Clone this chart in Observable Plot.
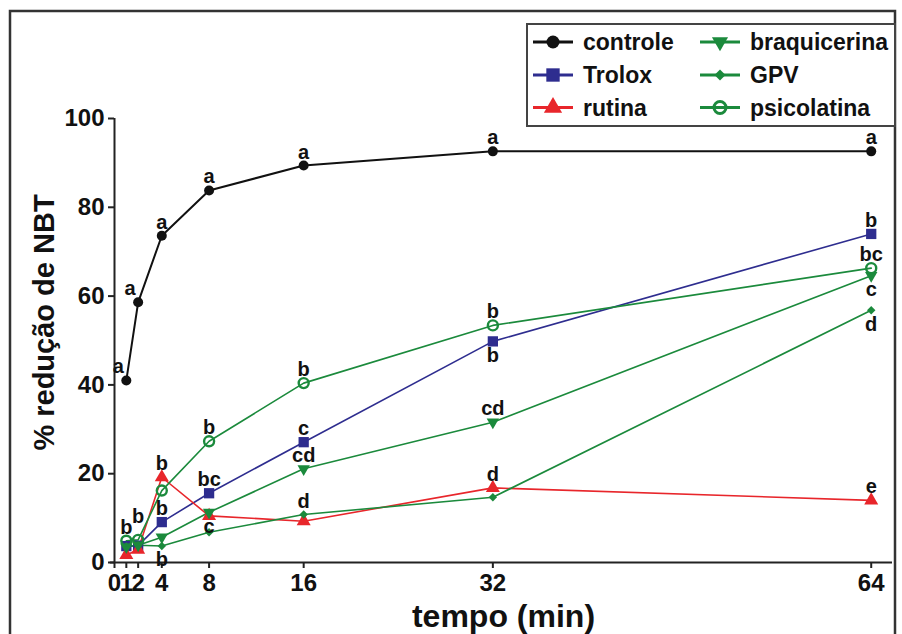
<!DOCTYPE html>
<html><head><meta charset="utf-8">
<script src="https://cdn.jsdelivr.net/npm/d3@7"></script>
<script src="https://cdn.jsdelivr.net/npm/@observablehq/plot@0.6"></script>
<style>
body{margin:0;background:#fff;}
#chart svg{display:block;}
</style></head><body><div id="chart"></div>
<script>
// ---- data ----
const times = [1, 2, 4, 8, 16, 32, 64];
const seriesNames = ["controle", "Trolox", "rutina", "braquicerina", "GPV", "psicolatina"];
const controle     = [41.0, 58.6, 73.6, 83.8, 89.4, 92.6, 92.6];
const trolox       = [3.7, 3.8, 9.1, 15.6, 27.1, 49.8, 74.0];
const rutina       = [1.7, 2.9, 19.2, 10.5, 9.3, 16.8, 14.0];
const braquicerina = [3.5, 3.9, 5.7, 11.3, 21.1, 31.6, 64.6];
const gpv          = [3.6, 3.9, 3.7, 6.8, 10.8, 14.7, 56.8];
const psicolatina  = [4.9, 5.1, 16.2, 27.3, 40.4, 53.4, 66.3];
const lettersControle     = ["a", "a", "a", "a", "a", "a", "a"];
const lettersTrolox       = [null, null, "b", "bc", "c", "b", "b"];
const lettersRutina       = [null, null, "b", null, null, "d", "e"];
const lettersBraquicerina = [null, null, null, "c", "cd", "cd", "c"];
const lettersGPV          = [null, null, "b", null, "d", null, "d"];
const lettersPsicolatina  = ["b", "b", null, "b", "b", "b", "bc"];
const xTicks = [0, 1, 2, 4, 8, 16, 32, 64];
const yTicks = [0, 20, 40, 60, 80, 100];
const xTitle = "tempo (min)";
const yTitle = "% redução de NBT";
// label placement (style): which letters sit below / left / higher than usual
const belowLabels = {Trolox: [32], braquicerina: [8, 64], GPV: [4, 64]};
const leftLabels = {controle: [1, 2]};
const highLabels = {psicolatina: [2]};

// ---- styles ----
const BLUE = "#2e2d8f", RED = "#e8262b", GREEN = "#1b8a3c", BLACK = "#111";
const style = {
  controle:     {color: BLACK, symbol: "circle", r: 5, fill: BLACK, sw: 2, rot: 0},
  Trolox:       {color: BLUE, symbol: "square", r: 5.8, fill: BLUE, sw: 1.6, rot: 0},
  rutina:       {color: RED, symbol: "triangle", r: 5.2, fill: RED, sw: 1.6, rot: 0},
  braquicerina: {color: GREEN, symbol: "triangle", r: 4.6, fill: GREEN, sw: 1.6, rot: 180},
  GPV:          {color: GREEN, symbol: "diamond2", r: 3.8, fill: GREEN, sw: 1.6, rot: 0},
  psicolatina:  {color: GREEN, symbol: "circle", r: 5, fill: "none", sw: 1.6, rot: 0, open: true}
};

const valuesBy = {controle, Trolox: trolox, rutina, braquicerina, GPV: gpv, psicolatina};
const lettersBy = {controle: lettersControle, Trolox: lettersTrolox, rutina: lettersRutina,
  braquicerina: lettersBraquicerina, GPV: lettersGPV, psicolatina: lettersPsicolatina};

const rows = [];
for (const s of seriesNames) {
  times.forEach((t, i) => {
    const L = lettersBy[s][i];
    let place = "above";
    if ((belowLabels[s] || []).includes(t)) place = "below";
    if ((leftLabels[s] || []).includes(t)) place = "left";
    if ((highLabels[s] || []).includes(t)) place = "high";
    rows.push({series: s, t, v: valuesBy[s][i], letter: L, place});
  });
}
const labels = rows.filter(d => d.letter);

const FONT = "'Liberation Sans', Arial, Helvetica, sans-serif";

const marks = [];
// axes lines
marks.push(Plot.ruleX([0], {y1: 0, y2: 100, stroke: "#222", strokeWidth: 2}));
marks.push(Plot.ruleY([0], {x1: -0.35, x2: 65.8, stroke: "#222", strokeWidth: 2}));
marks.push(Plot.axisY({ticks: yTicks, tickSize: 6, tickPadding: 4, fontSize: 24, fontWeight: "bold", label: null, stroke: "#222", strokeWidth: 2}));
marks.push(Plot.axisX({ticks: xTicks, tickSize: 6, tickPadding: 5, fontSize: 24, fontWeight: "bold", label: null, stroke: "#222", strokeWidth: 2}));
// lines
for (const s of seriesNames) {
  const st = style[s];
  marks.push(Plot.line(rows.filter(d => d.series === s), {x: "t", y: "v", stroke: st.color, strokeWidth: st.sw}));
}
// dots
for (const s of seriesNames) {
  const st = style[s];
  const data = rows.filter(d => d.series === s);
  if (st.open) {
    marks.push(Plot.dot(data, {x: "t", y: "v", r: st.r, fill: "none", stroke: st.color, strokeWidth: 2.4}));
  } else {
    marks.push(Plot.dot(data, {x: "t", y: "v", r: st.r, symbol: st.symbol, fill: st.fill, stroke: null, rotate: st.rot}));
  }
}
// letters
const txt = {text: "letter", x: "t", y: "v", fontSize: 20, fontWeight: "bold", fill: BLACK};
marks.push(Plot.text(labels.filter(d => d.place === "above"), {...txt, lineAnchor: "bottom", dy: -7}));
marks.push(Plot.text(labels.filter(d => d.place === "high"), {...txt, lineAnchor: "bottom", dy: -17}));
marks.push(Plot.text(labels.filter(d => d.place === "below"), {...txt, lineAnchor: "top", dy: 6}));
marks.push(Plot.text(labels.filter(d => d.place === "left"), {...txt, lineAnchor: "bottom", dy: -7, dx: -8}));
// titles
marks.push(Plot.text([yTitle], {frameAnchor: "left", textAnchor: "middle", lineAnchor: "middle", rotate: -90, dx: -70, dy: -18, fontSize: 29, fontWeight: "bold", fill: BLACK}));
marks.push(Plot.text([xTitle], {frameAnchor: "bottom", textAnchor: "middle", lineAnchor: "bottom", dy: 64, fontSize: 32, fontWeight: "bold", fill: BLACK}));

const chart = Plot.plot({
  width: 902, height: 634,
  marginLeft: 114, marginRight: 10, marginTop: 118, marginBottom: 72,
  x: {domain: [0, 65.8]},
  y: {domain: [0, 100]},
  style: {fontFamily: FONT, color: BLACK, background: "#fff"},
  marks
});
document.getElementById("chart").appendChild(chart);

// ---- frame and legend ----
const svg = d3.select(chart);
svg.append("rect").attr("x", 10).attr("y", 11).attr("width", 885).attr("height", 660)
  .attr("fill", "none").attr("stroke", "#333").attr("stroke-width", 2.5);
const lg = svg.append("g").attr("font-family", FONT).attr("font-weight", "bold").attr("font-size", 23)
  .attr("text-anchor", "start");
lg.append("rect").attr("x", 527).attr("y", 24).attr("width", 368).attr("height", 102)
  .attr("fill", "#fff").attr("stroke", "#444").attr("stroke-width", 2);
const symMap = {circle: d3.symbolCircle, square: d3.symbolSquare, triangle: d3.symbolTriangle, diamond2: d3.symbolDiamond2};
const legendPos = [[553, 42], [553, 75], [553, 107.5], [720, 42], [720, 75], [720, 107.5]];
seriesNames.forEach((s, i) => {
  const st = style[s];
  const [cx, cy] = legendPos[i];
  lg.append("line").attr("x1", cx - 20).attr("x2", cx + 20).attr("y1", cy).attr("y2", cy)
    .attr("stroke", st.color).attr("stroke-width", 3);
  if (st.open) {
    lg.append("circle").attr("cx", cx).attr("cy", cy).attr("r", 6).attr("fill", "none")
      .attr("stroke", st.color).attr("stroke-width", 3);
  } else {
    const rr = st.r * 1.3;
    lg.append("path").attr("d", d3.symbol(symMap[st.symbol], Math.PI * rr * rr)())
      .attr("transform", `translate(${cx},${cy}) rotate(${st.rot})`).attr("fill", st.fill);
  }
  lg.append("text").attr("x", cx + 30).attr("y", cy).attr("dy", "0.35em")
    .attr("text-anchor", "start").attr("fill", BLACK).text(s);
});
</script></body></html>
